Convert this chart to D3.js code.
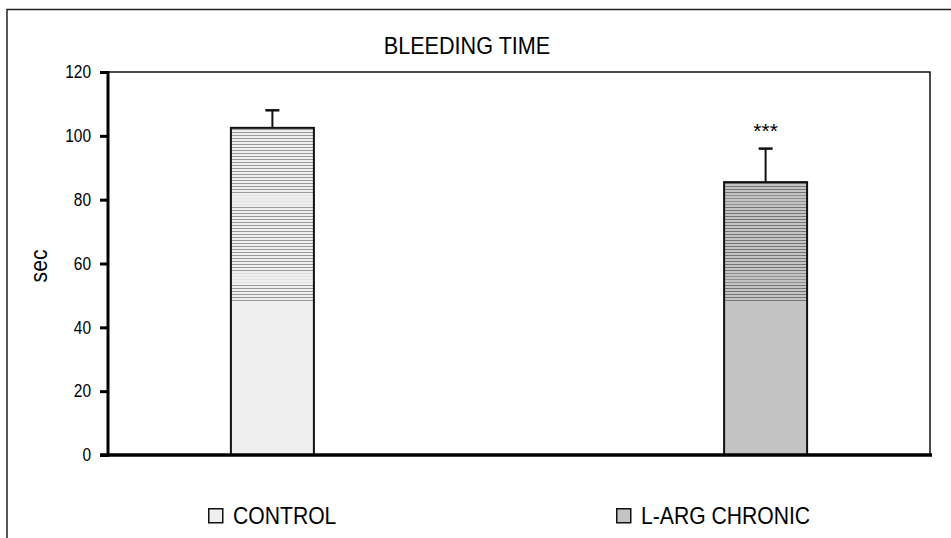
<!DOCTYPE html>
<html>
<head>
<meta charset="utf-8">
<script src="https://cdn.jsdelivr.net/npm/d3@7"></script>
<style>
  body { margin: 0; background: #fff; }
  text { font-family: "Liberation Sans", Arial, sans-serif; fill: #000; }
</style>
</head>
<body>
<div id="chartDiv"></div>
<script>
// data
var groups = ["CONTROL", "L-ARG CHRONIC"];
var means = [102.5, 85.5];
var errs = [5.5, 10.5];
var marks = ["", "***"];
var yTicks = [0, 20, 40, 60, 80, 100, 120];

var W = 951, H = 538;
var plot = {left: 108, right: 930, top: 72, bottom: 455};

var baseFill = ["#efefef", "#c4c4c4"],
    lineFill = ["#9a9a9a", "#757575"];
var stripeFrom = 48,
    stripeGaps = [[53.3, 57], [78.3, 81.8]];

var svg = d3.select("#chartDiv").append("svg")
    .attr("width", W)
    .attr("height", H);

var defs = svg.append("defs");
groups.forEach(function(g, i) {
  var p = defs.append("pattern").attr("id", "stripes" + i)
    .attr("patternUnits", "userSpaceOnUse")
    .attr("width", 4).attr("height", 3);
  p.append("rect").attr("width", 4).attr("height", 3).attr("fill", baseFill[i]);
  p.append("rect").attr("width", 4).attr("height", 1).attr("fill", lineFill[i]);
});

// outer frame
svg.append("path")
  .attr("d", "M7," + H + "V9.5H" + W)
  .attr("fill", "none").attr("stroke", "#222").attr("stroke-width", 1.5);

var x_scale = d3.scalePoint()
    .domain(groups)
    .range([plot.left, plot.right])
    .padding(1 / 3);

var y_scale = d3.scaleLinear()
    .domain([0, 120])
    .range([plot.bottom, plot.top]);

var barW = 83;

// thin top/right frame of the plot
svg.append("path")
  .attr("d", "M" + plot.left + "," + plot.top + "H" + plot.right + "V" + plot.bottom)
  .attr("fill", "none").attr("stroke", "#111").attr("stroke-width", 1.5);

// bars
var bars = svg.append("g").selectAll("g").data(groups).enter().append("g");

bars.append("rect")
  .attr("x", function(d) { return x_scale(d) - barW / 2; })
  .attr("y", function(d, i) { return y_scale(means[i]); })
  .attr("width", barW)
  .attr("height", function(d, i) { return y_scale(0) - y_scale(means[i]); })
  .attr("fill", function(d, i) { return baseFill[i]; });

bars.append("rect")
  .attr("x", function(d) { return x_scale(d) - barW / 2; })
  .attr("y", function(d, i) { return y_scale(means[i]); })
  .attr("width", barW)
  .attr("height", function(d, i) { return y_scale(stripeFrom) - y_scale(means[i]); })
  .attr("fill", function(d, i) { return "url(#stripes" + i + ")"; });

bars.each(function(d, i) {
  var g = d3.select(this);
  stripeGaps.forEach(function(gap) {
    var top = Math.min(gap[1], means[i]);
    if (top <= gap[0]) return;
    g.append("rect")
      .attr("x", x_scale(d) - barW / 2)
      .attr("y", y_scale(top))
      .attr("width", barW)
      .attr("height", y_scale(gap[0]) - y_scale(top))
      .attr("fill", baseFill[i])
      .attr("opacity", i == 0 ? 0.85 : 0.35);
  });
});

bars.append("rect")
  .attr("x", function(d) { return x_scale(d) - barW / 2; })
  .attr("y", function(d, i) { return y_scale(means[i]); })
  .attr("width", barW)
  .attr("height", function(d, i) { return y_scale(0) - y_scale(means[i]); })
  .attr("fill", "none")
  .attr("stroke", "#111")
  .attr("stroke-width", 2);

// error bars
bars.append("line")
  .attr("x1", function(d) { return x_scale(d); })
  .attr("x2", function(d) { return x_scale(d); })
  .attr("y1", function(d, i) { return y_scale(means[i]); })
  .attr("y2", function(d, i) { return y_scale(means[i] + errs[i]); })
  .attr("stroke", "#111").attr("stroke-width", 2);

bars.append("line")
  .attr("x1", function(d) { return x_scale(d) - 7; })
  .attr("x2", function(d) { return x_scale(d) + 7; })
  .attr("y1", function(d, i) { return y_scale(means[i] + errs[i]); })
  .attr("y2", function(d, i) { return y_scale(means[i] + errs[i]); })
  .attr("stroke", "#111").attr("stroke-width", 2.5);

bars.append("text")
  .attr("x", function(d) { return x_scale(d); })
  .attr("y", function(d, i) { return y_scale(means[i] + errs[i]) - 11; })
  .attr("text-anchor", "middle")
  .attr("font-size", 21)
  .text(function(d, i) { return marks[i]; });

// y axis
var yAxis = d3.axisLeft(y_scale).tickValues(yTicks).tickSize(8).tickSizeOuter(0);
var yGroup = svg.append("g")
  .attr("transform", "translate(" + plot.left + ",0)")
  .call(yAxis);
yGroup.select(".domain").remove();
yGroup.selectAll(".tick line").attr("stroke", "#000").attr("stroke-width", 3);
yGroup.selectAll(".tick text")
  .attr("font-family", null)
  .attr("font-size", 18)
  .attr("fill", "#000")
  .attr("x", -17 / 0.86)
  .attr("transform", "scale(0.86,1)");

svg.append("line")
  .attr("x1", plot.left).attr("x2", plot.left)
  .attr("y1", plot.top - 1).attr("y2", plot.bottom + 1.5)
  .attr("stroke", "#000").attr("stroke-width", 3);

// x axis line
svg.append("line")
  .attr("x1", plot.left - 8).attr("x2", plot.right + 2)
  .attr("y1", plot.bottom).attr("y2", plot.bottom)
  .attr("stroke", "#000").attr("stroke-width", 3.5);

// title and y label
svg.append("text")
  .attr("transform", "translate(467,54) scale(0.94,1)")
  .attr("text-anchor", "middle")
  .attr("font-size", 23)
  .text("BLEEDING TIME");

svg.append("text")
  .attr("transform", "translate(47,266) rotate(-90) scale(0.92,1)")
  .attr("text-anchor", "middle")
  .attr("font-size", 23)
  .text("sec");

// legend
var legX = [208, 616];
var leg = svg.append("g").selectAll("g").data(groups).enter().append("g")
  .attr("transform", function(d, i) { return "translate(" + legX[i] + ",508)"; });

leg.append("rect")
  .attr("x", 0.75).attr("y", 0.75)
  .attr("width", 14).attr("height", 14)
  .attr("fill", function(d, i) { return baseFill[i]; })
  .attr("stroke", "#111").attr("stroke-width", 1.5);

leg.append("text")
  .attr("transform", "translate(25,15.5) scale(0.92,1)")
  .attr("font-size", 23)
  .text(function(d) { return d; });
</script>
</body>
</html>
